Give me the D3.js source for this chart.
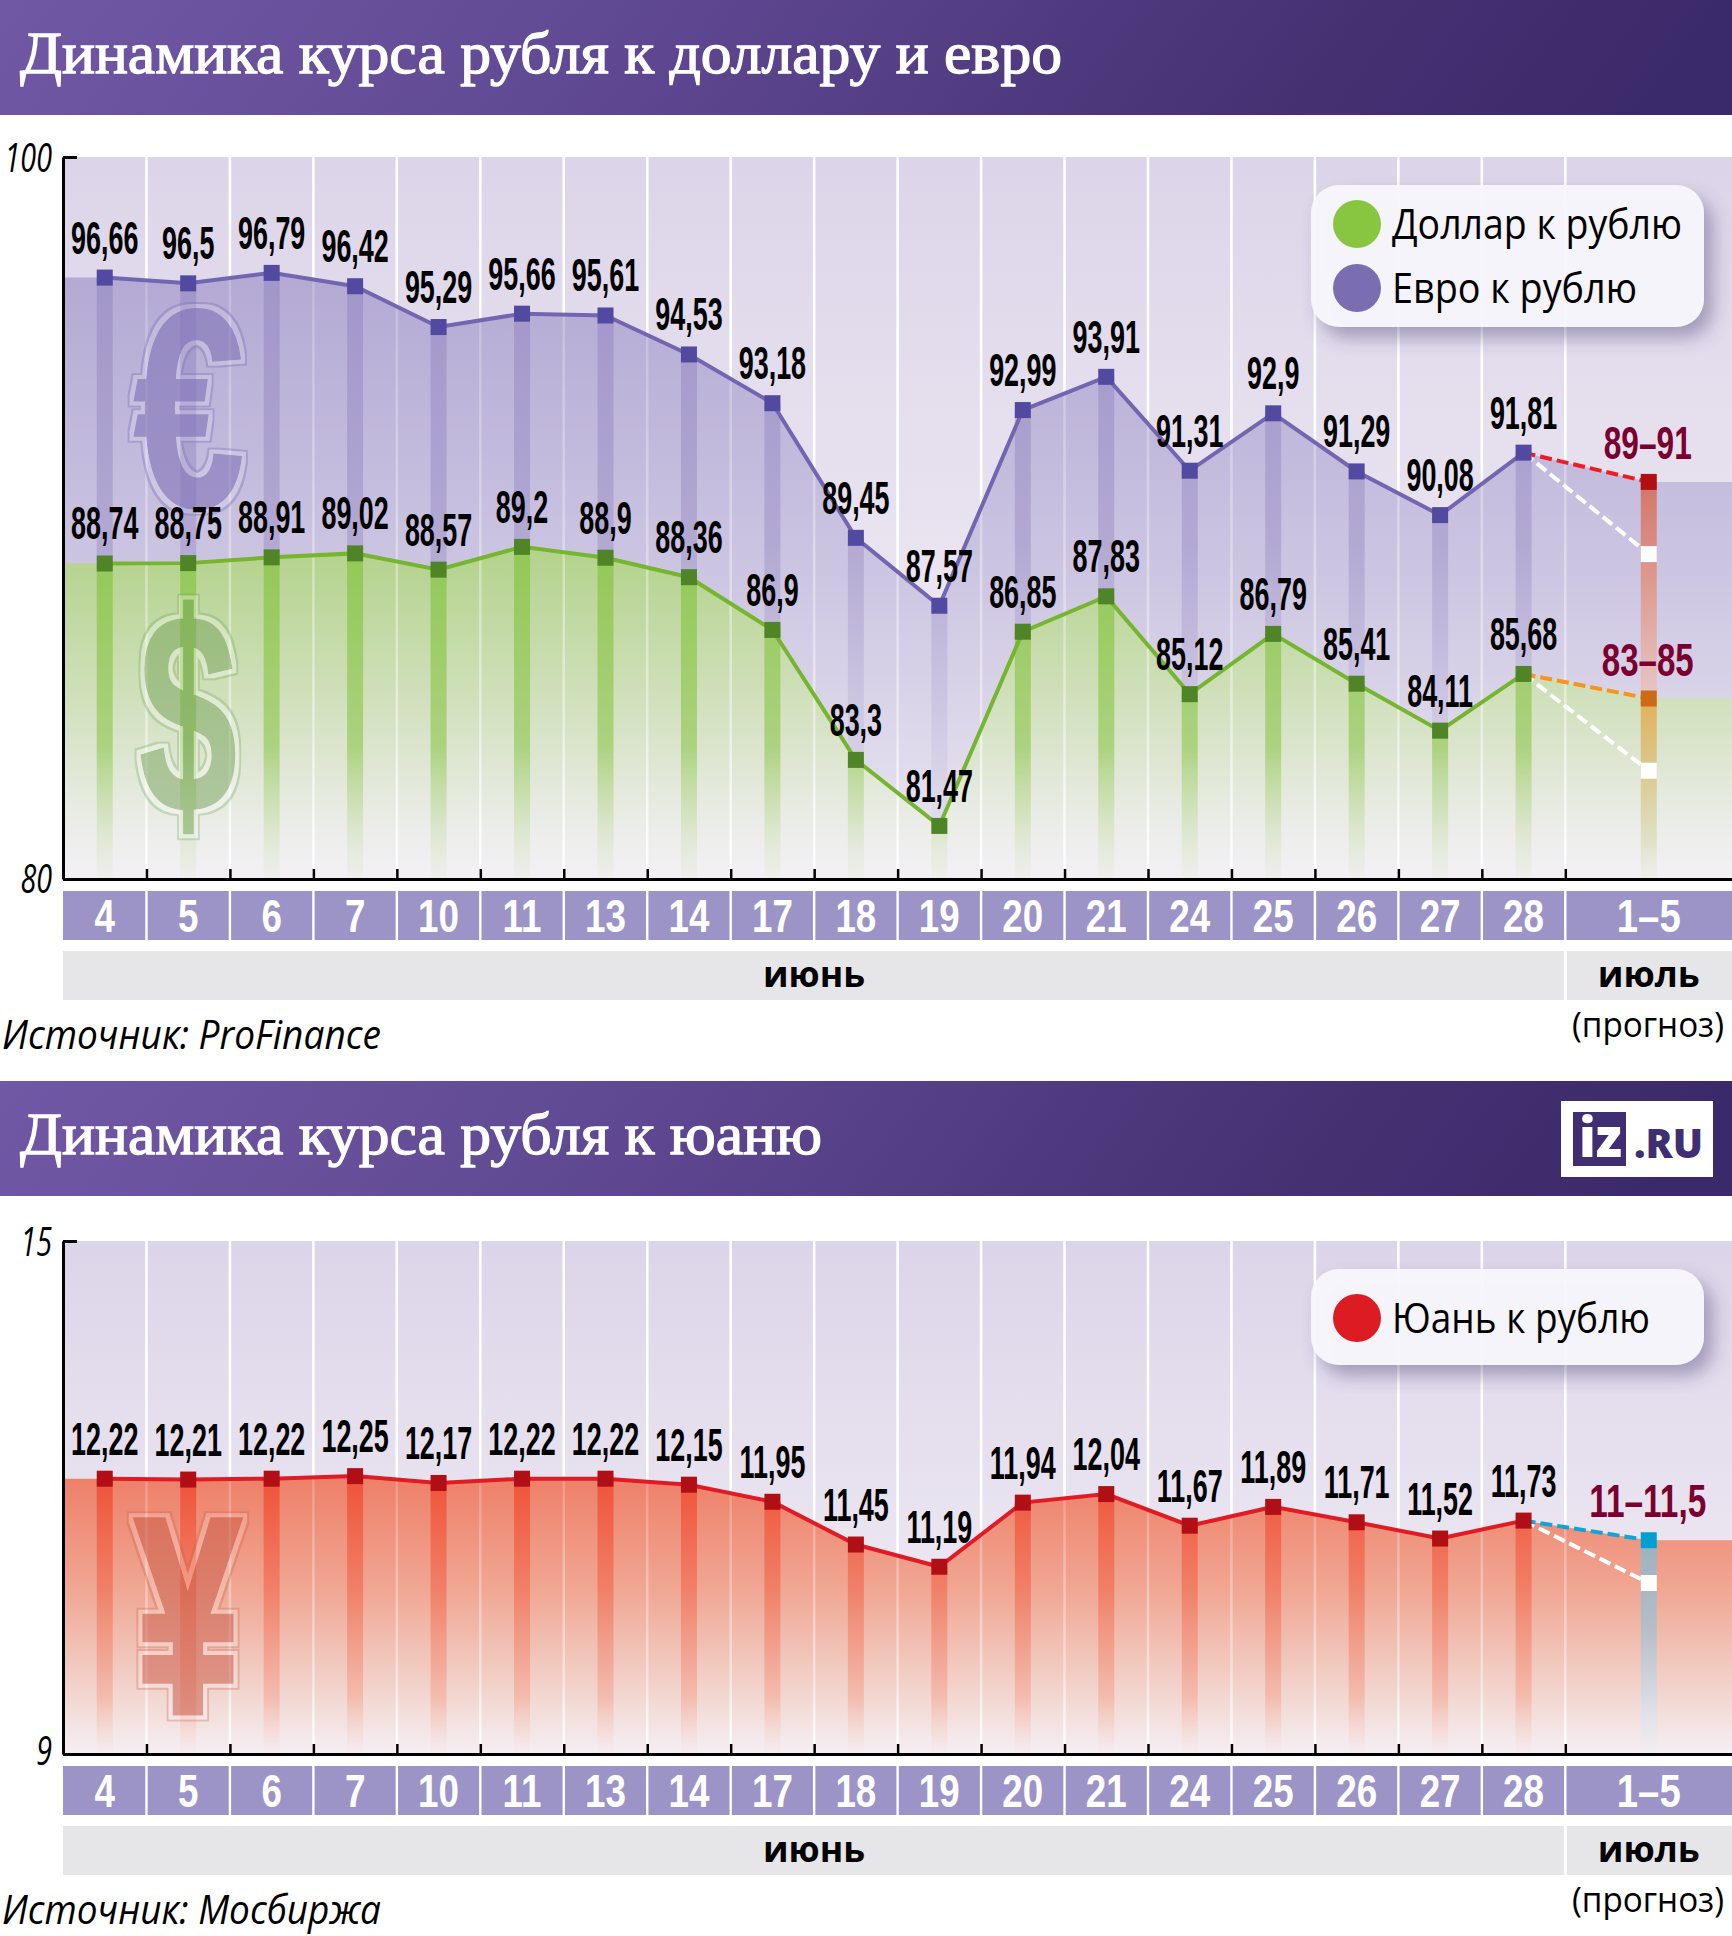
<!DOCTYPE html>
<html lang="ru"><head><meta charset="utf-8">
<style>html,body{margin:0;padding:0;background:#fff}svg{display:block}</style>
<script src="https://cdn.jsdelivr.net/npm/d3@7"></script>
</head><body><svg id="c" width="1732" height="1936"></svg>
<script>
const days=["4","5","6","7","10","11","13","14","17","18","19","20","21","24","25","26","27","28"];
const forecastLabel="1–5";
const usdValues=[88.74,88.75,88.91,89.02,88.57,89.2,88.9,88.36,86.9,83.3,81.47,86.85,87.83,85.12,86.79,85.41,84.11,85.68];
const eurValues=[96.66,96.5,96.79,96.42,95.29,95.66,95.61,94.53,93.18,89.45,87.57,92.99,93.91,91.31,92.9,91.29,90.08,91.81];
const cnyValues=[12.22,12.21,12.22,12.25,12.17,12.22,12.22,12.15,11.95,11.45,11.19,11.94,12.04,11.67,11.89,11.71,11.52,11.73];
const usdForecast=[83,85], eurForecast=[89,91], cnyForecast=[11,11.5];
const titles=["Динамика курса рубля к доллару и евро","Динамика курса рубля к юаню"];
const sources=["Источник: ProFinance","Источник: Мосбиржа"];
const months=["июнь","июль"];
const fmt=v=>String(v).replace(".",",");
const NARROW='"Liberation Sans",sans-serif';
const svg=d3.select("#c"), defs=svg.append("defs");
const X=d3.scaleLinear().domain([0,18]).range([63,1565.3]);
const fcX=X(19);
const fitW=(s,w)=>s.attr("textLength",w).attr("lengthAdjust","spacingAndGlyphs");
const squeeze=(s,f)=>s.each(function(){const n=this.getComputedTextLength();d3.select(this).attr("textLength",n*f).attr("lengthAdjust","spacingAndGlyphs")});
let gid=0;
function grad(y1,y2,stops){const id="g"+(gid++);
 const g=defs.append("linearGradient").attr("id",id).attr("gradientUnits","userSpaceOnUse").attr("x1",0).attr("x2",0).attr("y1",y1).attr("y2",y2);
 stops.forEach(s=>g.append("stop").attr("offset",s[0]).attr("stop-color",s[1]).attr("stop-opacity",s[2]===undefined?1:s[2]));
 return "url(#"+id+")";}
function outlineFilter(id,fillOp,ring,ringOp,gap,gapOp){
 const f=defs.append("filter").attr("id",id).attr("filterUnits","userSpaceOnUse").attr("x",0).attr("y",0).attr("width",1732).attr("height",1936);
 f.append("feMorphology").attr("in","SourceAlpha").attr("operator","dilate").attr("radius",3.5).attr("result","inner");
 f.append("feMorphology").attr("in","SourceAlpha").attr("operator","dilate").attr("radius",6).attr("result","outer");
 f.append("feComposite").attr("in","outer").attr("in2","inner").attr("operator","out").attr("result","ringA");
 f.append("feComposite").attr("in","inner").attr("in2","SourceAlpha").attr("operator","out").attr("result","gapA");
 f.append("feFlood").attr("flood-color",ring).attr("flood-opacity",ringOp);
 f.append("feComposite").attr("in2","ringA").attr("operator","in").attr("result","ringC");
 f.append("feFlood").attr("flood-color",gap).attr("flood-opacity",gapOp);
 f.append("feComposite").attr("in2","gapA").attr("operator","in").attr("result","gapC");
 const ct=f.append("feComponentTransfer").attr("in","SourceGraphic").attr("result","body");
 ct.append("feFuncA").attr("type","linear").attr("slope",fillOp);
 const m=f.append("feMerge");["gapC","ringC","body"].forEach(n=>m.append("feMergeNode").attr("in",n));
}
const hg=defs.append("linearGradient").attr("id","hdr").attr("x1",0).attr("x2",1).attr("y1",0).attr("y2",0.05);
[[0,"#7158a5"],[0.35,"#614a94"],[0.8,"#453072"],[1,"#3b2a6b"]].forEach(s=>hg.append("stop").attr("offset",s[0]).attr("stop-color",s[1]));
const sh=defs.append("filter").attr("id","shadow").attr("x","-10%").attr("y","-15%").attr("width","125%").attr("height","145%");
sh.append("feDropShadow").attr("dx",9).attr("dy",11).attr("stdDeviation",9).attr("flood-color","#4a3f70").attr("flood-opacity",0.42);

function header(y,title,w){
 svg.append("rect").attr("x",0).attr("y",y).attr("width",1732).attr("height",115).attr("fill","url(#hdr)");
 svg.append("text").attr("x",20).attr("y",y+73).attr("fill","#fff").attr("stroke","#fff").attr("stroke-width",1.3).attr("font-family",'"Liberation Serif",serif').attr("font-size",60).text(title).call(fitW,w);
}
function chart(c){
 const y=d3.scaleLinear().domain(c.domain).range([c.bottom,c.top]);
 const g=svg.append("g");
 const R=g.append("g");
 R.append("rect").attr("x",63).attr("y",c.top).attr("width",1669).attr("height",c.bottom-c.top).attr("fill",grad(c.top,c.bottom,[[0,"#dcd5e9"],[1,"#f4f0f6"]]));
 const ticks=d3.range(1,19);
 R.selectAll("line.g").data(ticks).join("line").attr("x1",X).attr("x2",X).attr("y1",c.top).attr("y2",c.bottom).attr("stroke","#fff").attr("stroke-width",2.5);
 const line=d3.line().x(d=>d[0]).y(d=>y(d[1]));
 c.series.forEach(s=>{
  const top=d3.max(s.values.concat(s.fc));
  const pts=s.values.map((v,i)=>[X(i+.5),v]);
  const hi=s.fc[1];
  const areaPts=[[63,s.values[0]],...pts,[fcX,hi],[1732,hi]];
  const area=d3.area().x(d=>d[0]).y0(c.bottom).y1(d=>y(d[1]));
  R.append("path").attr("d",area(areaPts)).attr("fill",grad(y(top),c.bottom,s.areaStops));
  R.selectAll(null).data(pts).join("rect").attr("x",d=>d[0]-8).attr("width",16).attr("y",d=>y(d[1])).attr("height",d=>c.bottom-y(d[1])-1).attr("fill",grad(y(top),c.bottom,s.barStops));
  R.append("rect").attr("x",fcX-8).attr("width",16).attr("y",y(hi)).attr("height",c.bottom-y(hi)-1).attr("fill",grad(y(hi),c.bottom,s.fcBarStops));
 });
 R.selectAll(null).data(ticks).join("line").attr("x1",X).attr("x2",X).attr("y1",c.top).attr("y2",c.bottom).attr("stroke",grad(y(d3.max(c.series[0].values)),c.bottom,[[0,"#fff",.18],[.75,"#fff",.45],[1,"#fff",.9]])).attr("stroke-width",2.5);
 // currency symbols
 c.symbols.forEach(s=>{
  const fid="f"+(gid++);outlineFilter(fid,s.op,s.ring,s.ringOp,s.gap,s.gapOp);
  g.append("g").attr("filter","url(#"+fid+")").append("text").attr("transform",`translate(${s.x},${s.y}) scale(${s.sx},1)`).attr("text-anchor","middle").attr("font-family",'"Liberation Sans",sans-serif').attr("font-weight",700).attr("font-size",s.fs).attr("fill",s.fill).attr("stroke",s.fill).attr("stroke-width",s.sw).text(s.ch);
 });
 // lines and markers
 c.series.forEach(s=>{
  const pts=s.values.map((v,i)=>[X(i+.5),v]);
  const last=pts[pts.length-1];
  g.append("path").attr("d",line([last,[fcX,s.fc[0]]])).attr("fill","none").attr("stroke","#fff").attr("stroke-width",4).attr("stroke-dasharray","12 5");
  g.append("path").attr("d",line([last,[fcX,s.fc[1]]])).attr("fill","none").attr("stroke",s.dash).attr("stroke-width",4).attr("stroke-dasharray","12 5");
  g.append("path").attr("d",line(pts)).attr("fill","none").attr("stroke",s.line).attr("stroke-width",4);
  g.selectAll(null).data(pts).join("rect").attr("x",d=>d[0]-8).attr("y",d=>y(d[1])-8).attr("width",16).attr("height",16).attr("fill",s.marker);
  g.append("rect").attr("x",fcX-8).attr("y",y(s.fc[1])-8).attr("width",16).attr("height",16).attr("fill",s.fcMarker);
  g.append("rect").attr("x",fcX-8).attr("y",y(s.fc[0])-8).attr("width",16).attr("height",16).attr("fill","#fff");
 });
 // axes
 const ax=g.append("g").attr("transform","translate(63,0)").call(d3.axisLeft(y).tickValues(c.domain).tickSizeInner(-14).tickSizeOuter(0).tickFormat(""));
 ax.select(".domain").attr("stroke","#000").attr("stroke-width",3);
 ax.selectAll("line").attr("stroke","#000").attr("stroke-width",3);
 const ab=g.append("g").attr("transform",`translate(0,${c.bottom})`).call(d3.axisTop(X.copy().domain([0,20]).range([63,X(20)])).tickValues(ticks).tickSizeInner(10).tickSizeOuter(0).tickFormat(""));
 ab.select(".domain").attr("stroke","#000").attr("stroke-width",3);
 ab.selectAll("line").attr("stroke","#000").attr("stroke-width",2.5);
 g.selectAll(null).data(c.domain).join("text").attr("x",52).attr("y",d=>y(d)+c.tickDy(d)).attr("text-anchor","end").attr("font-family",'"Open Sans",sans-serif').attr("font-style","italic").attr("font-size",41).text(d=>d).call(squeeze,.7);
 // value labels
 c.series.forEach(s=>{
  g.selectAll(null).data(s.values).join("text").attr("x",(d,i)=>X(i+.5)).attr("y",d=>y(d)-24).attr("text-anchor","middle").attr("font-family",NARROW).attr("font-weight",700).attr("font-size",46).attr("fill","#000").text(fmt).call(squeeze,.585);
  g.append("text").attr("x",fcX-1).attr("y",y(s.fc[1])-23).attr("text-anchor","middle").attr("font-family",NARROW).attr("font-weight",700).attr("font-size",46).attr("fill","#7b002f").text(s.fcText).call(fitW,s.fcW);
 });
 // day strip
 const by=c.bottom+12, bh=49;
 const Lab=g.append("g");
 Lab.selectAll(null).data(days).join("rect").attr("x",(d,i)=>X(i)+(i?1.2:0)).attr("width",(d,i)=>X(1)-X(0)-(i?2.4:1.2)).attr("y",by).attr("height",bh).attr("fill","#9c93c6");
 Lab.append("rect").attr("x",X(18)+1.2).attr("width",1732-X(18)-1.2).attr("y",by).attr("height",bh).attr("fill","#9c93c6");
 Lab.selectAll(null).data(days).join("text").attr("x",(d,i)=>X(i+.5)).attr("y",by+41).attr("text-anchor","middle").attr("font-family",NARROW).attr("font-weight",700).attr("font-size",46).attr("fill","#fff").text(d=>d).call(squeeze,.8);
 Lab.append("text").attr("x",fcX).attr("y",by+41).attr("text-anchor","middle").attr("font-family",NARROW).attr("font-weight",700).attr("font-size",46).attr("fill","#fff").text(forecastLabel).call(fitW,64);
 // month strip
 const my=by+60;
 Lab.append("rect").attr("x",63).attr("width",X(18)-1.5-63).attr("y",my).attr("height",bh).attr("fill","#e6e6e8");
 Lab.append("rect").attr("x",X(18)+1.5).attr("width",1732-X(18)-1.5).attr("y",my).attr("height",bh).attr("fill","#e6e6e8");
 Lab.selectAll(null).data(months).join("text").attr("x",(d,i)=>i?fcX:814).attr("y",my+36).attr("text-anchor","middle").attr("font-family",'"Open Sans",sans-serif').attr("font-weight",700).attr("font-size",36).text(d=>d).call(fitW,102);
 Lab.append("text").attr("x",1648).attr("y",my+86).attr("text-anchor","middle").attr("font-family",'"Open Sans",sans-serif').attr("font-size",35).text("(прогноз)").call(fitW,152);
 Lab.append("text").attr("x",2).attr("y",my+98).attr("font-family",'"Open Sans",sans-serif').attr("font-style","italic").attr("font-size",40).text(c.source).call(fitW,379);
 // legend
 const L=g.append("g");
 L.append("rect").attr("x",1311).attr("y",c.legend.y).attr("width",393).attr("height",c.legend.h).attr("rx",28).attr("fill","#f8f7fd").attr("fill-opacity",.96).attr("filter","url(#shadow)");
 c.legend.items.forEach(it=>{
  L.append("circle").attr("cx",1357).attr("cy",it.y).attr("r",24).attr("fill",it.color);
  L.append("text").attr("x",1392).attr("y",it.y+15).attr("font-family",'"Open Sans",sans-serif').attr("font-size",42).text(it.text).call(fitW,it.w);
 });
}
header(0,titles[0],1042);
header(1081,titles[1],802);
chart({top:157,bottom:879,domain:[80,100],source:sources[0],tickDy:d=>d===100?15:14,
 legend:{y:185,h:142,items:[{y:224,color:"#88c540",text:"Доллар к рублю",w:290},{y:288,color:"#7a6db0",text:"Евро к рублю",w:245}]},
 symbols:[
  {ch:"€",x:189,y:506,fs:282,sx:.71,sw:2,fill:"#8374b8",op:.62,ring:"#8374b8",ringOp:.4,gap:"#fff",gapOp:.15},
  {ch:"$",x:188,y:812,fs:285,sx:.62,sw:2,fill:"#6f9f55",op:.48,ring:"#6f9f55",ringOp:.3,gap:"#fff",gapOp:.3}
 ],
 series:[
  {values:eurValues,fc:eurForecast,fcText:"89–91",fcW:88,line:"#7366b0",marker:"#524aa0",dash:"#ee1c25",fcMarker:"#b01010",
   areaStops:[[0,"#b3a9d4"],[.5,"#cdc6e2"],[1,"#ece8f2"]],
   barStops:[[0,"#8f82bd",.5],[.45,"#8f82bd",.4],[1,"#b9aed8",.05]],
   fcBarStops:[[0,"#d4756a"],[.25,"#dd9a90"],[.6,"#e9cfcf"],[1,"#eee",.2]]},
  {values:usdValues,fc:usdForecast,fcText:"83–85",fcW:92,line:"#76b52f",marker:"#4f8427",dash:"#f7941d",fcMarker:"#cc6a16",
   areaStops:[[0,"#b3d28b"],[.45,"#d0e0bb"],[.85,"#ecedea"],[1,"#f3f0f5"]],
   barStops:[[0,"#8fc750",.9],[.6,"#9ccc66",.75],[1,"#cfe0b0",.1]],
   fcBarStops:[[0,"#e2b05c"],[.4,"#d9c98e"],[.8,"#e0e2c8"],[1,"#ecece4",.5]]}
 ]});
chart({top:1241,bottom:1754,domain:[9,15],source:sources[1],tickDy:d=>d===15?15:11,
 legend:{y:1269,h:96,items:[{y:1318,color:"#dc1b22",text:"Юань к рублю",w:258}]},
 symbols:[{ch:"¥",x:188,y:1711,fs:275,sx:.67,sw:9,fill:"#c85a46",op:.52,ring:"#c85a46",ringOp:.3,gap:"#fff",gapOp:.2}],
 series:[
  {values:cnyValues,fc:cnyForecast,fcText:"11–11,5",fcW:117,line:"#e01b24",marker:"#b01015",dash:"#0fa5d8",fcMarker:"#00a0d2",
   areaStops:[[0,"#ee7f68"],[.4,"#f0a692"],[.8,"#f2d8d2"],[1,"#f5eff4"]],
   barStops:[[0,"#ef5238"],[.4,"#f07f66"],[.8,"#f3b5a6",.8],[1,"#f5dcd8",.1]],
   fcBarStops:[[0,"#9bb2c0"],[.4,"#b5bcc6"],[.85,"#e4e4ec"],[1,"#eee",.3]]}
 ]});
// logo
const logo=svg.append("g");
logo.append("rect").attr("x",1561).attr("y",1101).attr("width",152).attr("height",76).attr("fill","#fff");
logo.append("rect").attr("x",1573).attr("y",1112).attr("width",53).attr("height",54).attr("fill","#3f2e72");
logo.append("text").attr("x",1579).attr("y",1157).attr("font-family",'"Open Sans",sans-serif').attr("font-weight",800).attr("font-size",54).attr("fill","#fff").text("iz").call(fitW,43);
logo.append("text").attr("x",1634).attr("y",1158).attr("font-family",'"Open Sans",sans-serif').attr("font-weight",800).attr("font-size",41).attr("fill","#3f2e72").text(".RU").call(fitW,69);
</script></body></html>
